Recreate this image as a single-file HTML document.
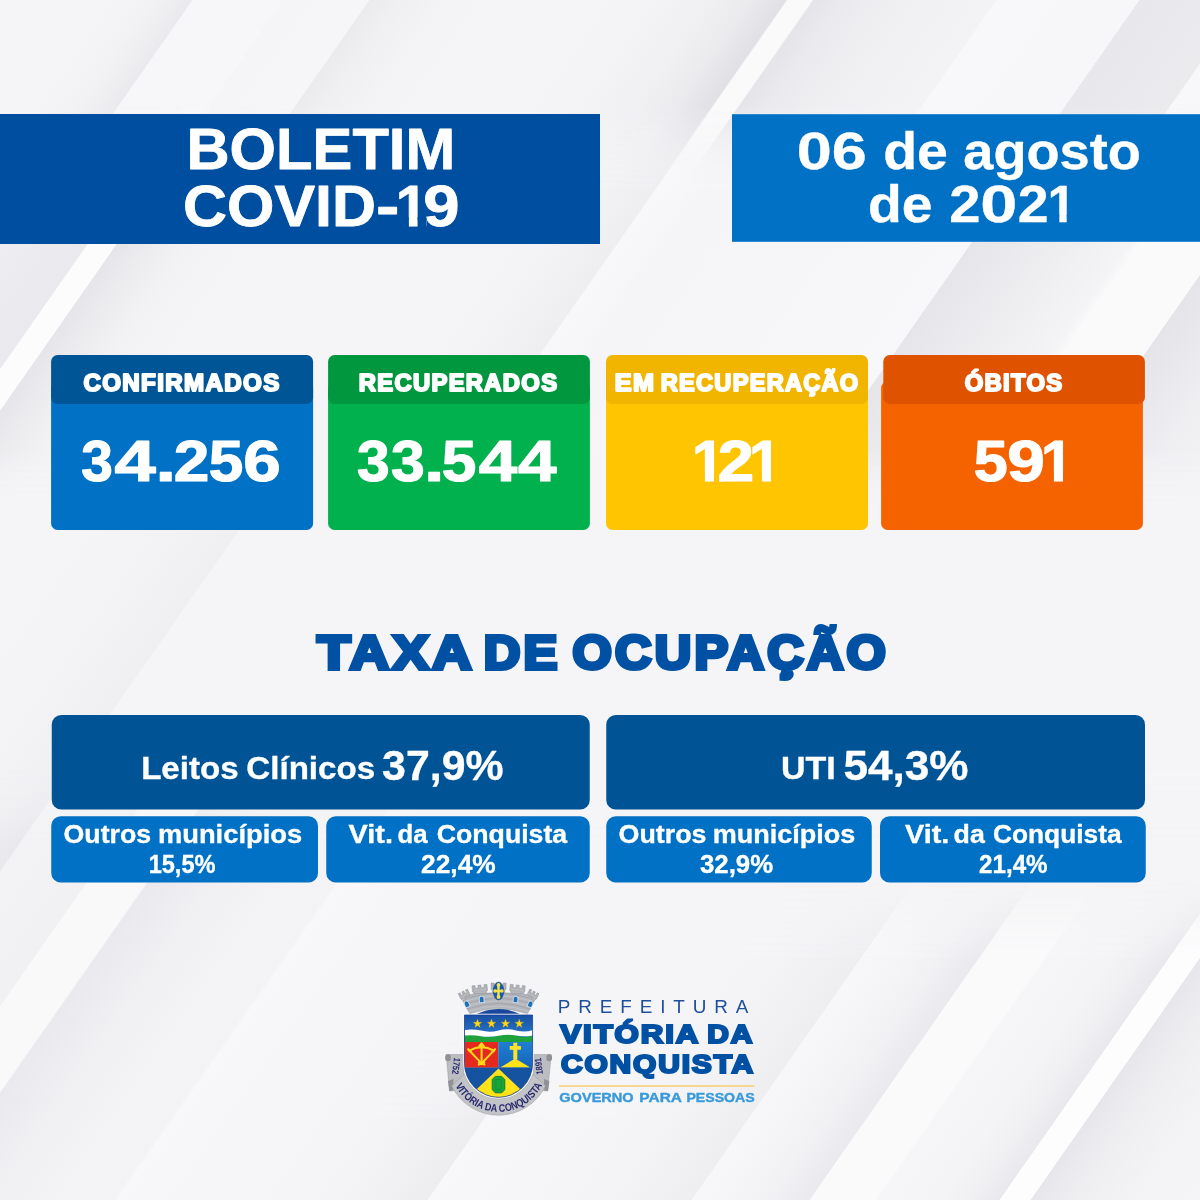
<!DOCTYPE html>
<html lang="pt-BR">
<head>
<meta charset="utf-8">
<title>Boletim COVID-19 - 06 de agosto de 2021 - Prefeitura de Vitória da Conquista</title>
<style>
html,body{margin:0;padding:0;background:#f5f5f7;}
body{width:1200px;height:1200px;overflow:hidden;position:relative;font-family:"Liberation Sans",sans-serif;}
svg{display:block;position:absolute;left:0;top:0;}
text{white-space:pre;}
</style>
</head>
<body>
<svg width="1200" height="1200" viewBox="0 0 1200 1200">

<defs><linearGradient id="bgA" gradientUnits="userSpaceOnUse" x1="0" y1="0" x2="2040" y2="0"><stop offset="0.00000" stop-color="#f5f5f7"/><stop offset="0.05392" stop-color="#f5f5f7"/><stop offset="0.07353" stop-color="#f2f2f4"/><stop offset="0.08824" stop-color="#ededf0"/><stop offset="0.09412" stop-color="#eaeaee"/><stop offset="0.09461" stop-color="#f7f7f9"/><stop offset="0.13824" stop-color="#f7f7f9"/><stop offset="0.13922" stop-color="#f5f5f7"/><stop offset="0.18088" stop-color="#f6f6f8"/><stop offset="0.18137" stop-color="#ebebee"/><stop offset="0.19363" stop-color="#efeff2"/><stop offset="0.21569" stop-color="#f3f3f5"/><stop offset="0.24020" stop-color="#f5f5f7"/><stop offset="0.29412" stop-color="#f5f5f7"/><stop offset="0.32353" stop-color="#f3f3f5"/><stop offset="0.34804" stop-color="#f0f0f3"/><stop offset="0.36765" stop-color="#ebebee"/><stop offset="0.38529" stop-color="#e0e0e5"/><stop offset="0.38627" stop-color="#fafafb"/><stop offset="0.39804" stop-color="#fafafb"/><stop offset="0.39902" stop-color="#e5e5e9"/><stop offset="0.41176" stop-color="#eaeaee"/><stop offset="0.43137" stop-color="#eeeef1"/><stop offset="0.45588" stop-color="#f1f1f4"/><stop offset="0.48824" stop-color="#f3f3f5"/><stop offset="0.48873" stop-color="#f8f8fa"/><stop offset="0.55833" stop-color="#f7f7f9"/><stop offset="0.55882" stop-color="#e8e8ec"/><stop offset="0.60980" stop-color="#ebebee"/><stop offset="0.61029" stop-color="#f8f8fa"/><stop offset="0.68627" stop-color="#f5f5f7"/><stop offset="1.00000" stop-color="#f5f5f7"/></linearGradient><linearGradient id="bvA" gradientUnits="userSpaceOnUse" x1="0" y1="0" x2="0" y2="1200"><stop offset="0.00000" stop-color="rgb(255,255,255)"/><stop offset="0.08750" stop-color="rgb(255,255,255)"/><stop offset="0.15833" stop-color="rgb(0,0,0)"/><stop offset="1.00000" stop-color="rgb(0,0,0)"/></linearGradient><mask id="bmA" maskUnits="userSpaceOnUse" x="0" y="0" width="1200" height="1200"><rect x="0" y="0" width="1200" height="1200" fill="url(#bvA)"/></mask><linearGradient id="bgB" gradientUnits="userSpaceOnUse" x1="0" y1="0" x2="2040" y2="0"><stop offset="0.00000" stop-color="#f0f0f3"/><stop offset="0.07843" stop-color="#eeeef1"/><stop offset="0.12647" stop-color="#eaeaee"/><stop offset="0.12696" stop-color="#fcfcfd"/><stop offset="0.14069" stop-color="#fcfcfd"/><stop offset="0.14118" stop-color="#e6e6ea"/><stop offset="0.15686" stop-color="#ececef"/><stop offset="0.17647" stop-color="#f2f2f4"/><stop offset="0.20588" stop-color="#f5f5f7"/><stop offset="0.33333" stop-color="#f5f5f7"/><stop offset="0.36275" stop-color="#f2f2f4"/><stop offset="0.38578" stop-color="#eeeef1"/><stop offset="0.38676" stop-color="#f8f8fa"/><stop offset="0.39951" stop-color="#f7f7f9"/><stop offset="0.40931" stop-color="#f5f5f7"/><stop offset="0.49020" stop-color="#f6f6f8"/><stop offset="0.55931" stop-color="#f8f8fa"/><stop offset="0.55980" stop-color="#e6e6ea"/><stop offset="0.59804" stop-color="#ededf0"/><stop offset="0.63725" stop-color="#f4f4f6"/><stop offset="0.64216" stop-color="#fafafb"/><stop offset="0.68235" stop-color="#fafafb"/><stop offset="0.68284" stop-color="#e4e4e9"/><stop offset="0.72549" stop-color="#efeff2"/><stop offset="0.78431" stop-color="#f4f4f6"/><stop offset="1.00000" stop-color="#f5f5f7"/></linearGradient><linearGradient id="bvB" gradientUnits="userSpaceOnUse" x1="0" y1="0" x2="0" y2="1200"><stop offset="0.00000" stop-color="rgb(0,0,0)"/><stop offset="0.08750" stop-color="rgb(0,0,0)"/><stop offset="0.15833" stop-color="rgb(255,255,255)"/><stop offset="0.37500" stop-color="rgb(255,255,255)"/><stop offset="0.43750" stop-color="rgb(0,0,0)"/><stop offset="1.00000" stop-color="rgb(0,0,0)"/></linearGradient><mask id="bmB" maskUnits="userSpaceOnUse" x="0" y="0" width="1200" height="1200"><rect x="0" y="0" width="1200" height="1200" fill="url(#bvB)"/></mask><linearGradient id="bgC" gradientUnits="userSpaceOnUse" x1="0" y1="0" x2="2040" y2="0"><stop offset="0.00000" stop-color="#f5f5f7"/><stop offset="0.21569" stop-color="#f5f5f7"/><stop offset="0.24608" stop-color="#f4f4f6"/><stop offset="0.27451" stop-color="#f2f2f4"/><stop offset="0.29853" stop-color="#efeff2"/><stop offset="0.29951" stop-color="#f5f5f7"/><stop offset="1.00000" stop-color="#f5f5f7"/></linearGradient><linearGradient id="bvC" gradientUnits="userSpaceOnUse" x1="0" y1="0" x2="0" y2="1200"><stop offset="0.00000" stop-color="rgb(0,0,0)"/><stop offset="0.37500" stop-color="rgb(0,0,0)"/><stop offset="0.43750" stop-color="rgb(255,255,255)"/><stop offset="0.64167" stop-color="rgb(255,255,255)"/><stop offset="0.70000" stop-color="rgb(0,0,0)"/><stop offset="1.00000" stop-color="rgb(0,0,0)"/></linearGradient><mask id="bmC" maskUnits="userSpaceOnUse" x="0" y="0" width="1200" height="1200"><rect x="0" y="0" width="1200" height="1200" fill="url(#bvC)"/></mask><linearGradient id="bgDL" gradientUnits="userSpaceOnUse" x1="0" y1="0" x2="1150" y2="0"><stop offset="0.00000" stop-color="#f5f5f7"/><stop offset="0.42609" stop-color="#f5f5f7"/><stop offset="0.47826" stop-color="#f0f0f3"/><stop offset="0.52957" stop-color="#e9e9ed"/><stop offset="0.53130" stop-color="#f3f3f5"/><stop offset="0.61217" stop-color="#f1f1f4"/><stop offset="0.61304" stop-color="#f9f9fa"/><stop offset="0.66435" stop-color="#f9f9fa"/><stop offset="0.66609" stop-color="#eaeaee"/><stop offset="0.72174" stop-color="#f0f0f3"/><stop offset="0.79130" stop-color="#f4f4f6"/><stop offset="0.82870" stop-color="#f3f3f5"/><stop offset="0.83217" stop-color="#f8f8fa"/><stop offset="0.87826" stop-color="#f6f6f8"/><stop offset="1.00000" stop-color="#f5f5f7"/></linearGradient><linearGradient id="bvDL" gradientUnits="userSpaceOnUse" x1="0" y1="0" x2="0" y2="1200"><stop offset="0.00000" stop-color="rgb(0,0,0)"/><stop offset="0.64167" stop-color="rgb(0,0,0)"/><stop offset="0.70000" stop-color="rgb(255,255,255)"/><stop offset="1.00000" stop-color="rgb(255,255,255)"/></linearGradient><mask id="bmDL" maskUnits="userSpaceOnUse" x="0" y="0" width="1200" height="1200"><rect x="0" y="0" width="1200" height="1200" fill="url(#bvDL)"/></mask><linearGradient id="bgDM" gradientUnits="userSpaceOnUse" x1="1150" y1="0" x2="1400" y2="0"><stop offset="0.00000" stop-color="#f5f5f7"/><stop offset="0.28000" stop-color="#f1f1f4"/><stop offset="0.46800" stop-color="#ededf0"/><stop offset="0.47200" stop-color="#f8f8fa"/><stop offset="0.72000" stop-color="#f6f6f8"/><stop offset="1.00000" stop-color="#f5f5f7"/></linearGradient><linearGradient id="bvDM" gradientUnits="userSpaceOnUse" x1="0" y1="0" x2="0" y2="1200"><stop offset="0.00000" stop-color="rgb(0,0,0)"/><stop offset="0.86667" stop-color="rgb(0,0,0)"/><stop offset="0.93333" stop-color="rgb(255,255,255)"/><stop offset="1.00000" stop-color="rgb(255,255,255)"/></linearGradient><mask id="bmDM" maskUnits="userSpaceOnUse" x="0" y="0" width="1200" height="1200"><rect x="0" y="0" width="1200" height="1200" fill="url(#bvDM)"/></mask><linearGradient id="bgDR" gradientUnits="userSpaceOnUse" x1="1400" y1="0" x2="2040" y2="0"><stop offset="0.00000" stop-color="#f5f5f7"/><stop offset="0.06250" stop-color="#f4f4f6"/><stop offset="0.14062" stop-color="#f1f1f4"/><stop offset="0.20469" stop-color="#eeeef1"/><stop offset="0.20625" stop-color="#f7f7f9"/><stop offset="0.26562" stop-color="#f5f5f7"/><stop offset="0.32812" stop-color="#f1f1f4"/><stop offset="0.38906" stop-color="#eaeaee"/><stop offset="0.39062" stop-color="#fafafb"/><stop offset="0.49219" stop-color="#fafafb"/><stop offset="0.49531" stop-color="#f6f6f8"/><stop offset="0.59375" stop-color="#f4f4f6"/><stop offset="0.64844" stop-color="#efeff2"/><stop offset="0.68594" stop-color="#e9e9ed"/><stop offset="0.68750" stop-color="#fdfdfe"/><stop offset="0.73438" stop-color="#fdfdfe"/><stop offset="0.73594" stop-color="#e7e7eb"/><stop offset="0.79688" stop-color="#eeeef1"/><stop offset="0.89062" stop-color="#f3f3f5"/><stop offset="1.00000" stop-color="#f5f5f7"/></linearGradient><linearGradient id="bvDR" gradientUnits="userSpaceOnUse" x1="0" y1="0" x2="0" y2="1200"><stop offset="0.00000" stop-color="rgb(0,0,0)"/><stop offset="0.73333" stop-color="rgb(0,0,0)"/><stop offset="0.80000" stop-color="rgb(255,255,255)"/><stop offset="1.00000" stop-color="rgb(255,255,255)"/></linearGradient><mask id="bmDR" maskUnits="userSpaceOnUse" x="0" y="0" width="1200" height="1200"><rect x="0" y="0" width="1200" height="1200" fill="url(#bvDR)"/></mask></defs><g id="background"><rect x="0" y="0" width="1200" height="1200" fill="#f5f5f7"/><g mask="url(#bmA)"><rect x="0" y="0" width="2040" height="1200" fill="url(#bgA)" transform="matrix(1 0 -0.7 1 0 0)"/></g><g mask="url(#bmB)"><rect x="0" y="0" width="2040" height="1200" fill="url(#bgB)" transform="matrix(1 0 -0.7 1 0 0)"/></g><g mask="url(#bmC)"><rect x="0" y="0" width="2040" height="1200" fill="url(#bgC)" transform="matrix(1 0 -0.7 1 0 0)"/></g><g mask="url(#bmDL)"><rect x="0" y="0" width="1150" height="1200" fill="url(#bgDL)" transform="matrix(1 0 -0.7 1 0 0)"/></g><g mask="url(#bmDM)"><rect x="1150" y="0" width="250" height="1200" fill="url(#bgDM)" transform="matrix(1 0 -0.7 1 0 0)"/></g><g mask="url(#bmDR)"><rect x="1400" y="0" width="640" height="1200" fill="url(#bgDR)" transform="matrix(1 0 -0.7 1 0 0)"/></g></g>
<g id="header">
<rect x="0" y="114" width="600" height="130" fill="#004e9f"/>
<text id="t_boletim" y="168.50" font-family="Liberation Sans, sans-serif" font-weight="bold" font-size="57.91" fill="#ffffff" stroke="#ffffff" stroke-width="0.8" stroke-linejoin="round"><tspan x="186.48" textLength="268.76" lengthAdjust="spacingAndGlyphs">BOLETIM</tspan></text>
<text id="t_covid" y="225.60" font-family="Liberation Sans, sans-serif" font-weight="bold" font-size="57.76" fill="#ffffff" stroke="#ffffff" stroke-width="0.8" stroke-linejoin="round"><tspan x="182.99" textLength="192.98" lengthAdjust="spacingAndGlyphs">COVID</tspan><tspan x="376.14" textLength="23.40" lengthAdjust="spacingAndGlyphs">-</tspan><tspan x="395.86" textLength="32.04" lengthAdjust="spacingAndGlyphs">1</tspan><tspan x="423.22" textLength="36.29" lengthAdjust="spacingAndGlyphs">9</tspan></text>
<rect x="397.40" y="217.30" width="11.50" height="10.30" fill="#004e9f"/><rect x="417.57" y="217.30" width="9.03" height="10.30" fill="#004e9f"/>
<rect x="732" y="114.2" width="468" height="127.6" fill="#0071c5"/>
<text id="t_date1" y="169.22" font-family="Liberation Sans, sans-serif" font-weight="bold" font-size="51.60" fill="#ffffff" stroke="#ffffff" stroke-width="0.35" stroke-linejoin="round"><tspan x="796.83" textLength="70.03" lengthAdjust="spacingAndGlyphs">06</tspan> <tspan x="883.24" textLength="64.72" lengthAdjust="spacingAndGlyphs">de</tspan> <tspan x="963.29" textLength="177.56" lengthAdjust="spacingAndGlyphs">agosto</tspan></text>
<text id="t_date2" y="222.22" font-family="Liberation Sans, sans-serif" font-weight="bold" font-size="51.60" fill="#ffffff" stroke="#ffffff" stroke-width="0.35" stroke-linejoin="round"><tspan x="868.03" textLength="64.59" lengthAdjust="spacingAndGlyphs">de</tspan> <tspan x="949.31" textLength="31.22" lengthAdjust="spacingAndGlyphs">2</tspan><tspan x="980.21" textLength="37.06" lengthAdjust="spacingAndGlyphs">0</tspan><tspan x="1017.69" textLength="30.88" lengthAdjust="spacingAndGlyphs">2</tspan><tspan x="1047.54" textLength="28.50" lengthAdjust="spacingAndGlyphs">1</tspan></text>
<rect x="1049.24" y="214.83" width="10.08" height="9.17" fill="#0071c5"/><rect x="1066.68" y="214.83" width="9.40" height="9.17" fill="#0071c5"/>
</g>

<g id="cards">
<g id="c1">
<rect x="51.1" y="381.5" width="262.0" height="148.5" rx="6.5" ry="6.5" fill="#0071c5" />
<rect x="51.1" y="355" width="262.0" height="48.9" rx="6.5" ry="6.5" fill="#005597" />
<text id="t_l1" y="391.00" font-family="Liberation Sans, sans-serif" font-weight="bold" font-size="23.51" fill="#ffffff" letter-spacing="1.3" stroke="#ffffff" stroke-width="2.0" stroke-linejoin="round"><tspan x="83.44" textLength="197.20" lengthAdjust="spacingAndGlyphs">CONFIRMADOS</tspan></text>
<text id="t_n1" y="481.30" font-family="Liberation Sans, sans-serif" font-weight="bold" font-size="58.06" fill="#ffffff" stroke="#ffffff" stroke-width="1.2" stroke-linejoin="round"><tspan x="81.13" textLength="31.65" lengthAdjust="spacingAndGlyphs">3</tspan><tspan x="114.60" textLength="41.31" lengthAdjust="spacingAndGlyphs">4</tspan><tspan x="155.54" textLength="20.58" lengthAdjust="spacingAndGlyphs">.</tspan><tspan x="173.89" textLength="35.61" lengthAdjust="spacingAndGlyphs">2</tspan><tspan x="208.82" textLength="34.54" lengthAdjust="spacingAndGlyphs">5</tspan><tspan x="243.38" textLength="37.50" lengthAdjust="spacingAndGlyphs">6</tspan></text>

</g>

<g id="c2">
<rect x="328.1" y="381.5" width="261.79999999999995" height="148.5" rx="6.5" ry="6.5" fill="#00b14e" />
<rect x="328.1" y="355" width="261.79999999999995" height="48.9" rx="6.5" ry="6.5" fill="#00973e" />
<text id="t_l2" y="391.00" font-family="Liberation Sans, sans-serif" font-weight="bold" font-size="23.51" fill="#ffffff" letter-spacing="1.3" stroke="#ffffff" stroke-width="2.0" stroke-linejoin="round"><tspan x="358.87" textLength="199.47" lengthAdjust="spacingAndGlyphs">RECUPERADOS</tspan></text>
<text id="t_n2" y="481.30" font-family="Liberation Sans, sans-serif" font-weight="bold" font-size="58.06" fill="#ffffff" stroke="#ffffff" stroke-width="1.2" stroke-linejoin="round"><tspan x="357.04" textLength="32.69" lengthAdjust="spacingAndGlyphs">3</tspan><tspan x="390.92" textLength="33.78" lengthAdjust="spacingAndGlyphs">3</tspan><tspan x="423.91" textLength="20.41" lengthAdjust="spacingAndGlyphs">.</tspan><tspan x="441.83" textLength="34.56" lengthAdjust="spacingAndGlyphs">5</tspan><tspan x="478.71" textLength="38.51" lengthAdjust="spacingAndGlyphs">4</tspan><tspan x="517.90" textLength="38.51" lengthAdjust="spacingAndGlyphs">4</tspan></text>

</g>

<g id="c3">
<rect x="606" y="381.5" width="262" height="148.5" rx="6.5" ry="6.5" fill="#ffc500" />
<rect x="606" y="355" width="262" height="48.9" rx="6.5" ry="6.5" fill="#f1b500" />
<text id="t_l3" y="391.00" font-family="Liberation Sans, sans-serif" font-weight="bold" font-size="23.51" fill="#ffffff" letter-spacing="1.3" stroke="#ffffff" stroke-width="2.0" stroke-linejoin="round"><tspan x="614.71" textLength="40.59" lengthAdjust="spacingAndGlyphs">EM</tspan> <tspan x="660.71" textLength="198.78" lengthAdjust="spacingAndGlyphs">RECUPERAÇÃO</tspan></text>
<text id="t_n3" y="481.30" font-family="Liberation Sans, sans-serif" font-weight="bold" font-size="58.06" fill="#ffffff" stroke="#ffffff" stroke-width="1.2" stroke-linejoin="round"><tspan x="692.01" textLength="32.18" lengthAdjust="spacingAndGlyphs">1</tspan><tspan x="717.79" textLength="36.15" lengthAdjust="spacingAndGlyphs">2</tspan><tspan x="749.02" textLength="32.18" lengthAdjust="spacingAndGlyphs">1</tspan></text>
<rect x="693.12" y="472.77" width="11.78" height="10.73" fill="#ffc500"/><rect x="714.02" y="472.77" width="5.08" height="10.73" fill="#ffc500"/><rect x="752.30" y="472.77" width="9.62" height="10.73" fill="#ffc500"/><rect x="771.03" y="472.77" width="11.02" height="10.73" fill="#ffc500"/>
</g>

<g id="c4">
<rect x="881.1" y="381.5" width="261.80000000000007" height="148.5" rx="6.5" ry="6.5" fill="#f56300" />
<rect x="883.3" y="355" width="261.60000000000014" height="48.9" rx="6.5" ry="6.5" fill="#de5200" />
<text id="t_l4" y="391.00" font-family="Liberation Sans, sans-serif" font-weight="bold" font-size="23.51" fill="#ffffff" letter-spacing="1.3" stroke="#ffffff" stroke-width="2.0" stroke-linejoin="round"><tspan x="964.71" textLength="98.77" lengthAdjust="spacingAndGlyphs">ÓBITOS</tspan></text>
<text id="t_n4" y="481.30" font-family="Liberation Sans, sans-serif" font-weight="bold" font-size="58.06" fill="#ffffff" stroke="#ffffff" stroke-width="1.2" stroke-linejoin="round"><tspan x="973.71" textLength="33.96" lengthAdjust="spacingAndGlyphs">5</tspan><tspan x="1007.32" textLength="37.59" lengthAdjust="spacingAndGlyphs">9</tspan><tspan x="1041.00" textLength="32.17" lengthAdjust="spacingAndGlyphs">1</tspan></text>
<rect x="1043.30" y="472.77" width="10.59" height="10.73" fill="#f56300"/><rect x="1063.00" y="472.77" width="11.01" height="10.73" fill="#f56300"/>
</g>

</g>

<g id="ocupacao">
<text id="t_title" y="668.75" font-family="Liberation Sans, sans-serif" font-weight="bold" font-size="47.17" fill="#0050a3" letter-spacing="3.0" stroke="#0050a3" stroke-width="4.0" stroke-linejoin="miter" stroke-miterlimit="2.5"><tspan x="317.20" textLength="155.75" lengthAdjust="spacingAndGlyphs">TAXA</tspan> <tspan x="483.73" textLength="76.92" lengthAdjust="spacingAndGlyphs">DE</tspan> <tspan x="572.59" textLength="316.46" lengthAdjust="spacingAndGlyphs">OCUPAÇÃO</tspan></text>
<rect x="51.75" y="715" width="538.0" height="94.5" rx="9.5" ry="9.5" fill="#005496" />
<text id="t_lc" y="779.03" font-family="Liberation Sans, sans-serif" font-weight="bold" font-size="31.71" fill="#ffffff" stroke="#ffffff" stroke-width="0.35" stroke-linejoin="round"><tspan x="141.15" textLength="97.47" lengthAdjust="spacingAndGlyphs">Leitos</tspan> <tspan x="246.37" textLength="128.74" lengthAdjust="spacingAndGlyphs">Clínicos</tspan></text>
<text id="t_lcp" y="779.62" font-family="Liberation Sans, sans-serif" font-weight="bold" font-size="42.31" fill="#ffffff" stroke="#ffffff" stroke-width="0.35" stroke-linejoin="round"><tspan x="382.12" textLength="121.41" lengthAdjust="spacingAndGlyphs">37,9%</tspan></text>
<rect x="606.25" y="715" width="538.75" height="94.5" rx="9.5" ry="9.5" fill="#005496" />
<text id="t_uti" y="779.03" font-family="Liberation Sans, sans-serif" font-weight="bold" font-size="31.71" fill="#ffffff" stroke="#ffffff" stroke-width="0.35" stroke-linejoin="round"><tspan x="781.05" textLength="54.76" lengthAdjust="spacingAndGlyphs">UTI</tspan></text>
<text id="t_utip" y="779.62" font-family="Liberation Sans, sans-serif" font-weight="bold" font-size="42.31" fill="#ffffff" stroke="#ffffff" stroke-width="0.35" stroke-linejoin="round"><tspan x="843.40" textLength="124.95" lengthAdjust="spacingAndGlyphs">54,3%</tspan></text>
<rect x="51.25" y="816.2" width="266.75" height="66.3" rx="9.5" ry="9.5" fill="#0071c5" />
<text id="t_s1" y="843.03" font-family="Liberation Sans, sans-serif" font-weight="bold" font-size="25.47" fill="#ffffff" stroke="#ffffff" stroke-width="0.35" stroke-linejoin="round"><tspan x="63.52" textLength="87.60" lengthAdjust="spacingAndGlyphs">Outros</tspan> <tspan x="157.93" textLength="144.28" lengthAdjust="spacingAndGlyphs">municípios</tspan></text>
<text id="t_s1p" y="872.93" font-family="Liberation Sans, sans-serif" font-weight="bold" font-size="25.47" fill="#ffffff" stroke="#ffffff" stroke-width="0.35" stroke-linejoin="round"><tspan x="148.63" textLength="66.90" lengthAdjust="spacingAndGlyphs">15,5%</tspan></text>
<rect x="326.25" y="816.2" width="263.5" height="66.3" rx="9.5" ry="9.5" fill="#0071c5" />
<text id="t_s2" y="843.03" font-family="Liberation Sans, sans-serif" font-weight="bold" font-size="25.47" fill="#ffffff" stroke="#ffffff" stroke-width="0.35" stroke-linejoin="round"><tspan x="348.55" textLength="44.42" lengthAdjust="spacingAndGlyphs">Vit.</tspan> <tspan x="397.60" textLength="30.11" lengthAdjust="spacingAndGlyphs">da</tspan> <tspan x="436.80" textLength="130.32" lengthAdjust="spacingAndGlyphs">Conquista</tspan></text>
<text id="t_s2p" y="872.93" font-family="Liberation Sans, sans-serif" font-weight="bold" font-size="25.47" fill="#ffffff" stroke="#ffffff" stroke-width="0.35" stroke-linejoin="round"><tspan x="421.06" textLength="74.62" lengthAdjust="spacingAndGlyphs">22,4%</tspan></text>
<rect x="606.25" y="816.2" width="265.5" height="66.3" rx="9.5" ry="9.5" fill="#0071c5" />
<text id="t_s3" y="843.03" font-family="Liberation Sans, sans-serif" font-weight="bold" font-size="25.47" fill="#ffffff" stroke="#ffffff" stroke-width="0.35" stroke-linejoin="round"><tspan x="618.53" textLength="87.91" lengthAdjust="spacingAndGlyphs">Outros</tspan> <tspan x="712.67" textLength="142.54" lengthAdjust="spacingAndGlyphs">municípios</tspan></text>
<text id="t_s3p" y="872.93" font-family="Liberation Sans, sans-serif" font-weight="bold" font-size="25.47" fill="#ffffff" stroke="#ffffff" stroke-width="0.35" stroke-linejoin="round"><tspan x="700.00" textLength="73.09" lengthAdjust="spacingAndGlyphs">32,9%</tspan></text>
<rect x="880" y="816.2" width="265.75" height="66.3" rx="9.5" ry="9.5" fill="#0071c5" />
<text id="t_s4" y="843.03" font-family="Liberation Sans, sans-serif" font-weight="bold" font-size="25.47" fill="#ffffff" stroke="#ffffff" stroke-width="0.35" stroke-linejoin="round"><tspan x="904.97" textLength="44.35" lengthAdjust="spacingAndGlyphs">Vit.</tspan> <tspan x="953.61" textLength="31.19" lengthAdjust="spacingAndGlyphs">da</tspan> <tspan x="992.94" textLength="128.64" lengthAdjust="spacingAndGlyphs">Conquista</tspan></text>
<text id="t_s4p" y="872.93" font-family="Liberation Sans, sans-serif" font-weight="bold" font-size="25.47" fill="#ffffff" stroke="#ffffff" stroke-width="0.35" stroke-linejoin="round"><tspan x="979.08" textLength="68.54" lengthAdjust="spacingAndGlyphs">21,4%</tspan></text>
</g>

<g id="logo">
<g id="brasao"><path d="M446.2 1054.6 L463.6 1054.6 L463.8 1090 L449.5 1091 Z" fill="#bcbdc1" stroke="#94969b" stroke-width="0.5"/><path d="M551.2 1054.6 L533.6 1054.6 L533.4 1090 L547.7 1091 Z" fill="#bcbdc1" stroke="#94969b" stroke-width="0.5"/><rect x="445.2" y="1054.2" width="5.6" height="7" rx="2.6" fill="#8f9196"/><rect x="546.4" y="1054.2" width="5.6" height="7" rx="2.6" fill="#8f9196"/><path d="M448 1081 L453.5 1079 L453 1090.5 L449.4 1091 Z" fill="#8f9196"/><path d="M549.4 1081 L543.9 1079 L544.4 1090.5 L548 1091 Z" fill="#8f9196"/><path d="M451.68 1085.88 A52.20 52.20 0 0 0 545.52 1085.88 L532.65 1074.06 A35.80 35.80 0 0 1 464.55 1074.06 Z" fill="#c3c4c8" stroke="#96989d" stroke-width="0.5"/><path id="fitaPath" d="M449.70 1033.00 L449.70 1063.00 A48.90 48.90 0 0 0 547.50 1063.00 L547.50 1033.00" fill="none"/><text font-family="Liberation Sans, sans-serif" font-size="9.4" font-weight="bold" fill="#2a2a70" transform="translate(454.0 1057.4) rotate(97)" textLength="16.5" lengthAdjust="spacingAndGlyphs">1752</text><text font-family="Liberation Sans, sans-serif" font-size="9.4" font-weight="bold" fill="#2a2a70" transform="translate(543.0 1074.0) rotate(-97)" textLength="16.5" lengthAdjust="spacingAndGlyphs">1891</text><text font-family="Liberation Sans, sans-serif" font-size="10.8" font-weight="bold" fill="#2a2a70"><textPath href="#fitaPath" startOffset="53.47" textLength="107.11" lengthAdjust="spacingAndGlyphs">VITÓRIA DA CONQUISTA</textPath></text><g transform="translate(471.20 1008.00) rotate(-27.0)"><polygon points="-4.08,0.00 -4.08,-11.16 -5.10,-12.65 -5.10,-18.60 -3.06,-18.60 -3.06,-15.81 -1.02,-15.81 -1.02,-18.60 1.02,-18.60 1.02,-15.81 3.06,-15.81 3.06,-18.60 5.10,-18.60 5.10,-12.65 4.08,-11.16 4.08,0.00" fill="#b1b3b8" stroke="#8f9196" stroke-width="0.5" stroke-linejoin="round"/><line x1="-4.08" y1="-3.72" x2="4.08" y2="-3.72" stroke="#c9cace" stroke-width="0.4"/><line x1="-4.08" y1="-7.44" x2="4.08" y2="-7.44" stroke="#c9cace" stroke-width="0.4"/><line x1="-4.08" y1="-11.16" x2="4.08" y2="-11.16" stroke="#c9cace" stroke-width="0.4"/><line x1="-4.08" y1="-13.95" x2="4.08" y2="-13.95" stroke="#c9cace" stroke-width="0.4"/></g><g transform="translate(526.00 1008.00) rotate(27.0)"><polygon points="-4.08,0.00 -4.08,-11.16 -5.10,-12.65 -5.10,-18.60 -3.06,-18.60 -3.06,-15.81 -1.02,-15.81 -1.02,-18.60 1.02,-18.60 1.02,-15.81 3.06,-15.81 3.06,-18.60 5.10,-18.60 5.10,-12.65 4.08,-11.16 4.08,0.00" fill="#b1b3b8" stroke="#8f9196" stroke-width="0.5" stroke-linejoin="round"/><line x1="-4.08" y1="-3.72" x2="4.08" y2="-3.72" stroke="#c9cace" stroke-width="0.4"/><line x1="-4.08" y1="-7.44" x2="4.08" y2="-7.44" stroke="#c9cace" stroke-width="0.4"/><line x1="-4.08" y1="-11.16" x2="4.08" y2="-11.16" stroke="#c9cace" stroke-width="0.4"/><line x1="-4.08" y1="-13.95" x2="4.08" y2="-13.95" stroke="#c9cace" stroke-width="0.4"/></g><g transform="translate(481.40 1004.00) rotate(-6.0)"><polygon points="-6.00,0.00 -6.00,-11.40 -7.50,-12.92 -7.50,-19.00 -4.50,-19.00 -4.50,-16.15 -1.50,-16.15 -1.50,-19.00 1.50,-19.00 1.50,-16.15 4.50,-16.15 4.50,-19.00 7.50,-19.00 7.50,-12.92 6.00,-11.40 6.00,0.00" fill="#b1b3b8" stroke="#8f9196" stroke-width="0.5" stroke-linejoin="round"/><line x1="-6.00" y1="-3.80" x2="6.00" y2="-3.80" stroke="#c9cace" stroke-width="0.4"/><line x1="-6.00" y1="-7.60" x2="6.00" y2="-7.60" stroke="#c9cace" stroke-width="0.4"/><line x1="-6.00" y1="-11.40" x2="6.00" y2="-11.40" stroke="#c9cace" stroke-width="0.4"/><line x1="-6.00" y1="-14.25" x2="6.00" y2="-14.25" stroke="#c9cace" stroke-width="0.4"/></g><g transform="translate(515.80 1004.00) rotate(6.0)"><polygon points="-6.00,0.00 -6.00,-11.40 -7.50,-12.92 -7.50,-19.00 -4.50,-19.00 -4.50,-16.15 -1.50,-16.15 -1.50,-19.00 1.50,-19.00 1.50,-16.15 4.50,-16.15 4.50,-19.00 7.50,-19.00 7.50,-12.92 6.00,-11.40 6.00,0.00" fill="#b1b3b8" stroke="#8f9196" stroke-width="0.5" stroke-linejoin="round"/><line x1="-6.00" y1="-3.80" x2="6.00" y2="-3.80" stroke="#c9cace" stroke-width="0.4"/><line x1="-6.00" y1="-7.60" x2="6.00" y2="-7.60" stroke="#c9cace" stroke-width="0.4"/><line x1="-6.00" y1="-11.40" x2="6.00" y2="-11.40" stroke="#c9cace" stroke-width="0.4"/><line x1="-6.00" y1="-14.25" x2="6.00" y2="-14.25" stroke="#c9cace" stroke-width="0.4"/></g><g transform="translate(498.60 1002.50) rotate(0.0)"><polygon points="-6.00,0.00 -6.00,-11.70 -7.50,-13.26 -7.50,-19.50 -4.50,-19.50 -4.50,-16.57 -1.50,-16.57 -1.50,-19.50 1.50,-19.50 1.50,-16.57 4.50,-16.57 4.50,-19.50 7.50,-19.50 7.50,-13.26 6.00,-11.70 6.00,0.00" fill="#b1b3b8" stroke="#8f9196" stroke-width="0.5" stroke-linejoin="round"/><line x1="-6.00" y1="-3.90" x2="6.00" y2="-3.90" stroke="#c9cace" stroke-width="0.4"/><line x1="-6.00" y1="-7.80" x2="6.00" y2="-7.80" stroke="#c9cace" stroke-width="0.4"/><line x1="-6.00" y1="-11.70" x2="6.00" y2="-11.70" stroke="#c9cace" stroke-width="0.4"/><line x1="-6.00" y1="-14.62" x2="6.00" y2="-14.62" stroke="#c9cace" stroke-width="0.4"/></g><path d="M466.2 1006.4 L465.0 996.8 L473.6 993.8 L486 993.2 L498.6 992.6 L511.2 993.2 L523.6 993.8 L532.2 996.8 L531 1006.4 L527.4 1013.8 Q498.6 1003.4 469.8 1013.8 Z" fill="#b4b6bc" stroke="#8f9196" stroke-width="0.5" stroke-linejoin="round"/><path d="M468.60 1011.40 Q498.6 1000.80 528.60 1011.40" fill="none" stroke="#d3d4d9" stroke-width="0.45"/><path d="M468.05 1008.80 Q498.6 998.00 529.15 1008.80" fill="none" stroke="#8f9198" stroke-width="0.45"/><path d="M467.50 1006.20 Q498.6 995.40 529.70 1006.20" fill="none" stroke="#d3d4d9" stroke-width="0.45"/><path d="M465.40 1003.60 Q498.6 992.80 531.80 1003.60" fill="none" stroke="#8f9198" stroke-width="0.45"/><path d="M465.60 1001.00 Q498.6 990.40 531.60 1001.00" fill="none" stroke="#d3d4d9" stroke-width="0.45"/><path d="M465.80 998.40 Q498.6 988.00 531.40 998.40" fill="none" stroke="#8f9198" stroke-width="0.45"/><g transform="translate(468.00 1007.00) rotate(-22.0)"><path d="M-2.3 0 V-4 A2.3 2.3 0 0 1 2.3 -4 V0 Z" fill="#1d6fb8" stroke="#eaf3fb" stroke-width="0.7"/></g><g transform="translate(481.90 1002.60) rotate(-5.0)"><path d="M-2.3 0 V-4 A2.3 2.3 0 0 1 2.3 -4 V0 Z" fill="#1d6fb8" stroke="#eaf3fb" stroke-width="0.7"/></g><g transform="translate(515.30 1002.60) rotate(5.0)"><path d="M-2.3 0 V-4 A2.3 2.3 0 0 1 2.3 -4 V0 Z" fill="#1d6fb8" stroke="#eaf3fb" stroke-width="0.7"/></g><g transform="translate(529.20 1007.00) rotate(22.0)"><path d="M-2.3 0 V-4 A2.3 2.3 0 0 1 2.3 -4 V0 Z" fill="#1d6fb8" stroke="#eaf3fb" stroke-width="0.7"/></g><ellipse cx="498.5" cy="991" rx="5.3" ry="9" fill="#155aa8" stroke="#0f3f86" stroke-width="0.5"/><g fill="#f6e24a"><rect x="497.3" y="984.2" width="2.4" height="13.6" rx="1"/><rect x="494.3" y="989.8" width="8.4" height="2.4" rx="1"/><circle cx="498.5" cy="985.0" r="1.9"/><circle cx="498.5" cy="997.0" r="1.9"/><circle cx="495.0" cy="991.0" r="1.7"/><circle cx="502.0" cy="991.0" r="1.7"/></g><defs><clipPath id="escudoClip"><path d="M464.50 1015.00 H532.60 V1063.30 A34.05 34.05 0 0 1 464.50 1063.30 Z"/></clipPath><linearGradient id="chefe" x1="0" y1="0" x2="0" y2="1"><stop offset="0" stop-color="#1850a5"/><stop offset="1" stop-color="#2a80d2"/></linearGradient><linearGradient id="azulD" x1="0" y1="0" x2="0" y2="1"><stop offset="0" stop-color="#1f7fd0"/><stop offset="1" stop-color="#1565bb"/></linearGradient></defs><path d="M474 1015.4 Q498.5 1002.5 523 1015.4 Z" fill="#18479c"/><path d="M464.50 1015.00 H532.60 V1063.30 A34.05 34.05 0 0 1 464.50 1063.30 Z" fill="#ffffff" stroke="#ffffff" stroke-width="2.4"/><g clip-path="url(#escudoClip)"><rect x="464" y="1015" width="69" height="27" fill="url(#chefe)"/><rect x="464" y="1067.2" width="69" height="31" fill="#15529f"/><rect x="464" y="1041.8" width="34.2" height="25.6" fill="#e42a1f"/><rect x="498.2" y="1041.8" width="35" height="25.6" fill="url(#azulD)"/><path d="M464 1035.4 Q472 1033.6 481 1036.0 T498.5 1035.6 T516 1035.6 T533 1035.2 V1042 H464 Z" fill="#1fa23c"/><path d="M464 1030.2 Q472 1028.4 481 1030.6 T498.5 1030.4 T516 1030.4 T533 1030.0 V1035.4 Q524 1037.2 516 1035.6 T498.5 1035.8 T481 1036.2 T464 1035.6 Z" fill="#ffffff"/><polygon points="477.50,1019.10 478.62,1022.16 481.87,1022.28 479.31,1024.29 480.20,1027.42 477.50,1025.60 474.80,1027.42 475.69,1024.29 473.13,1022.28 476.38,1022.16" fill="#ffd81a" stroke="#c9a400" stroke-width="0.3"/><polygon points="491.50,1019.10 492.62,1022.16 495.87,1022.28 493.31,1024.29 494.20,1027.42 491.50,1025.60 488.80,1027.42 489.69,1024.29 487.13,1022.28 490.38,1022.16" fill="#ffd81a" stroke="#c9a400" stroke-width="0.3"/><polygon points="505.50,1019.10 506.62,1022.16 509.87,1022.28 507.31,1024.29 508.20,1027.42 505.50,1025.60 502.80,1027.42 503.69,1024.29 501.13,1022.28 504.38,1022.16" fill="#ffd81a" stroke="#c9a400" stroke-width="0.3"/><polygon points="519.20,1019.10 520.32,1022.16 523.57,1022.28 521.01,1024.29 521.90,1027.42 519.20,1025.60 516.50,1027.42 517.39,1024.29 514.83,1022.28 518.08,1022.16" fill="#ffd81a" stroke="#c9a400" stroke-width="0.3"/><g fill="none" stroke="#ffd81a" stroke-width="2.1" stroke-linecap="round" stroke-linejoin="round"><path d="M469.4 1050.6 Q481.6 1043.6 493.8 1050.6"/><path d="M469.4 1050.6 L481.6 1063.4 L493.8 1050.6"/><path d="M481.6 1044 V1064.2"/><path d="M479.2 1046.4 L481.6 1043.4 L484 1046.4"/><path d="M478.8 1062.6 L484.4 1064.6 M484.4 1062.6 L478.8 1064.6"/><path d="M468.2 1049.2 L470.8 1052 M495 1049.2 L492.4 1052"/></g><path d="M500.6 1067.2 L515.2 1058.6 L529.8 1067.2 Z" fill="#ffe21a"/><path d="M513.3 1042.8 h4 v3.2 h3.6 v3.8 h-3.6 v9.4 h-4 v-9.4 h-3.6 v-3.8 h3.6 Z" fill="#fbe32a"/><path d="M498.5 1068.4 L520.6 1089.6 L498.5 1099 L476.4 1089.6 Z" fill="#ffe21a"/><path d="M476.4 1089.6 Q498.5 1101 520.6 1089.6 V1100 H476.4 Z" fill="#ffe21a"/><path d="M495.2 1076.4 h6.6 l3 3.2 v10 l-3 3.2 h-6.6 l-3 -3.2 v-10 Z" fill="#18a53c" stroke="#0c7a2b" stroke-width="0.9" stroke-linejoin="round"/><path d="M495.8 1079.6 h5.4 v10 h-5.4 Z" fill="none" stroke="#0e8a31" stroke-width="0.6"/></g><path d="M464.50 1015.00 H532.60 V1063.30 A34.05 34.05 0 0 1 464.50 1063.30 Z" fill="none" stroke="#1b3f8f" stroke-width="0.8"/></g>
<text id="t_pref" y="1013.00" font-family="Liberation Sans, sans-serif" font-weight="normal" font-size="18.87" fill="#1d4f9b"><tspan x="557.76" textLength="190.64" lengthAdjust="spacing">PREFEITURA</tspan></text>
<text id="t_vit" y="1043.30" font-family="Liberation Sans, sans-serif" font-weight="bold" font-size="25.83" fill="#0050a3" letter-spacing="1.6" stroke="#0050a3" stroke-width="2.2" stroke-linejoin="miter" stroke-miterlimit="2.5"><tspan x="560.34" textLength="138.81" lengthAdjust="spacingAndGlyphs">VITÓRIA</tspan> <tspan x="707.26" textLength="46.93" lengthAdjust="spacingAndGlyphs">DA</tspan></text>
<text id="t_conq" y="1072.50" font-family="Liberation Sans, sans-serif" font-weight="bold" font-size="25.83" fill="#0050a3" letter-spacing="1.6" stroke="#0050a3" stroke-width="2.2" stroke-linejoin="miter" stroke-miterlimit="2.5"><tspan x="560.97" textLength="194.11" lengthAdjust="spacingAndGlyphs">CONQUISTA</tspan></text>
<rect x="559" y="1085.2" width="195.4" height="1.6" fill="#f6cf7c"/>
<text id="t_gov" y="1102.20" font-family="Liberation Sans, sans-serif" font-weight="bold" font-size="12.48" fill="#3a9ad9" stroke="#3a9ad9" stroke-width="0.4" stroke-linejoin="round"><tspan x="559.30" textLength="74.41" lengthAdjust="spacingAndGlyphs">GOVERNO</tspan> <tspan x="639.38" textLength="42.05" lengthAdjust="spacingAndGlyphs">PARA</tspan> <tspan x="686.44" textLength="68.27" lengthAdjust="spacingAndGlyphs">PESSOAS</tspan></text>
</g>

</svg>
</body>
</html>
